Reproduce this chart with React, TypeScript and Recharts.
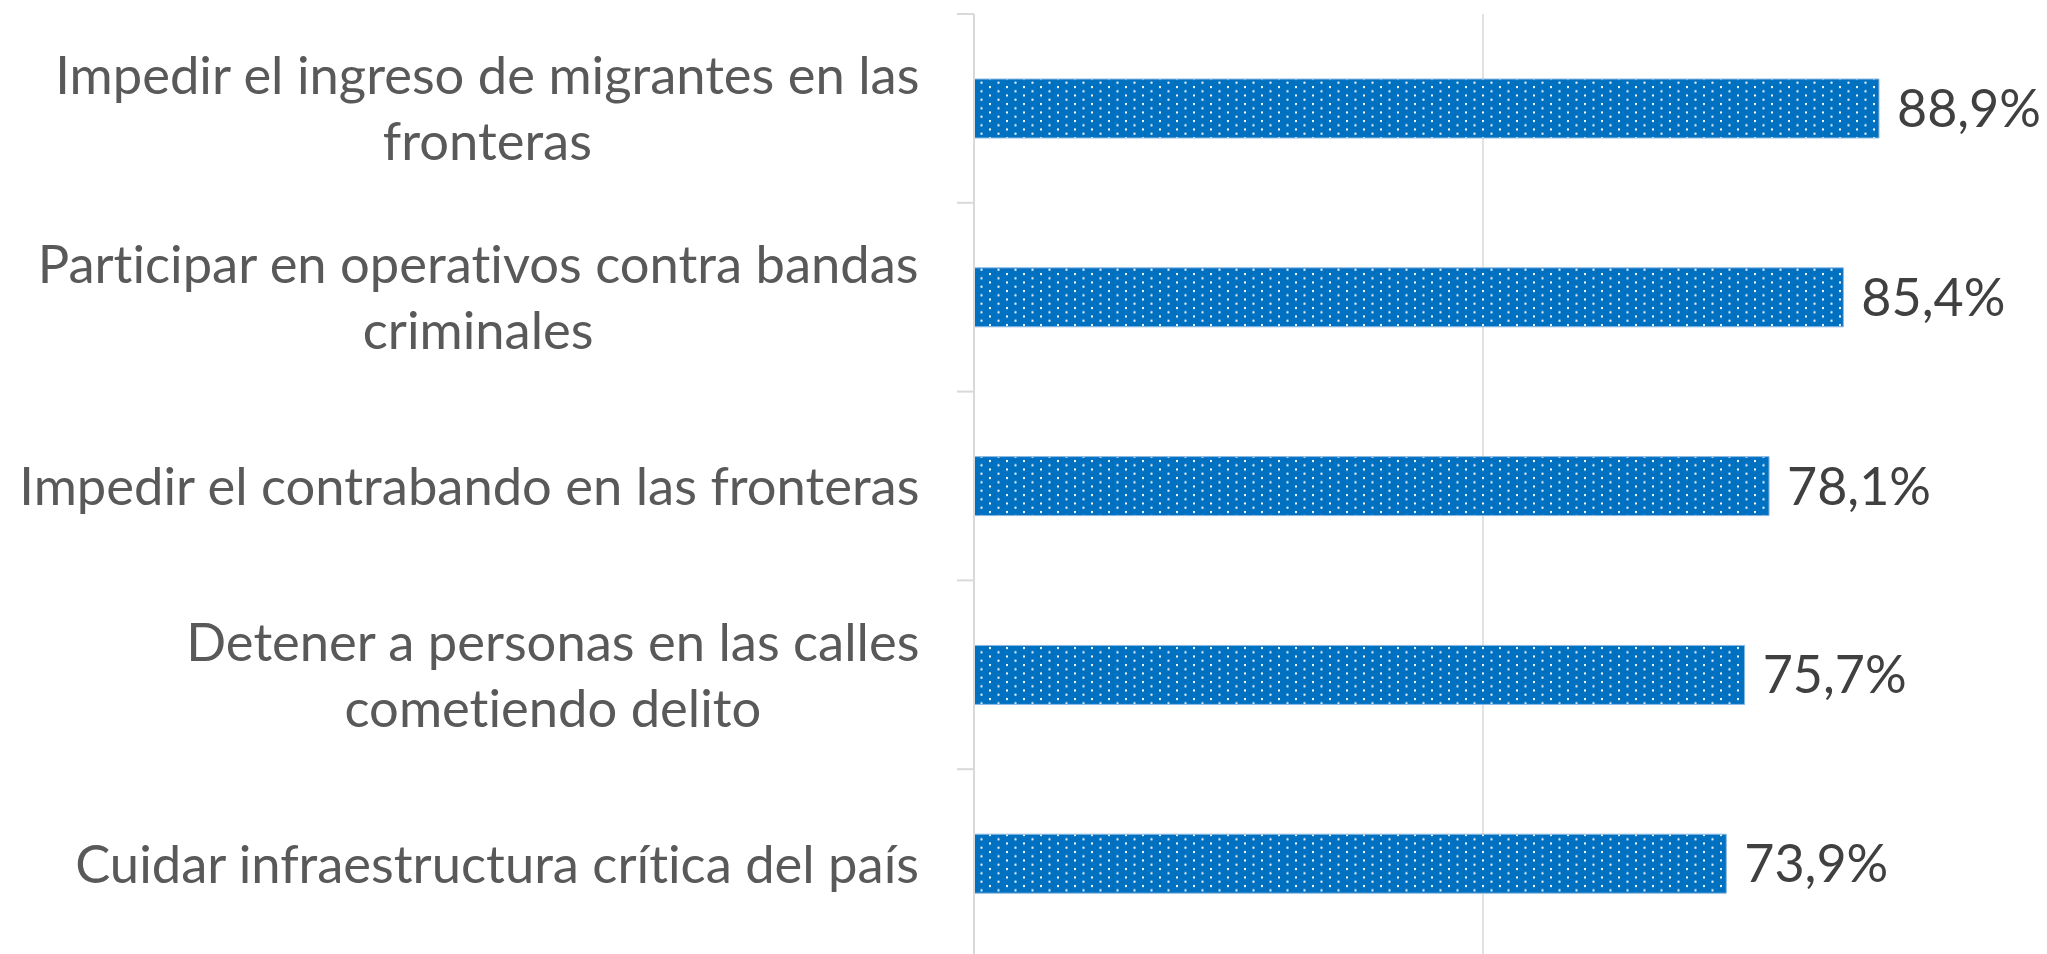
import React from 'react';
import { BarChart, Bar, XAxis, YAxis, CartesianGrid, LabelList } from 'recharts';

const categories: string[] = [
  'Impedir el ingreso de migrantes en las\nfronteras',
  'Participar en operativos contra bandas\ncriminales',
  'Impedir el contrabando en las fronteras',
  'Detener a personas en las calles\ncometiendo delito',
  'Cuidar infraestructura crítica del país',
];
const values: number[] = [88.9, 85.4, 78.1, 75.7, 73.9];
const xDomain: [number, number] = [0, 100];
const gridTicks: number[] = [50];

const data = categories.map((name, i) => ({ name, value: values[i] }));

const FONT = "Lato, 'Open Sans', sans-serif";
const CAT_SIZE = 52.5;
const VAL_SIZE = 52;
const LINE_H = 66;

let ctx: CanvasRenderingContext2D | null = null;
function measure(text: string): number {
  if (!ctx) ctx = document.createElement('canvas').getContext('2d');
  if (!ctx) return text.length * CAT_SIZE * 0.45;
  ctx.font = `${CAT_SIZE}px Lato`;
  return ctx.measureText(text).width;
}

const CategoryTick = (props: any) => {
  const { x, y, payload } = props;
  const lines = String(payload.value).split('\n');
  const widths = lines.map(measure);
  const blockW = Math.max(...widths);
  const cx = x - blockW / 2;
  const y0 = y - ((lines.length - 1) * LINE_H) / 2;
  const half = payload.offset && payload.offset > 0 ? payload.offset : 94.4;
  const axisX = x + 54;
  return (
    <g>
      <line x1={axisX - 17} x2={axisX} y1={y - half} y2={y - half} stroke="#d9d9d9" strokeWidth={2} />
      <text
        x={cx}
        y={y0}
        textAnchor="middle"
        fill="#595959"
        fontSize={CAT_SIZE}
        fontFamily={FONT}
        style={{ fontVariantLigatures: 'none' }}
      >
        {lines.map((l, i) => (
          <tspan key={i} x={cx} y={y0 + i * LINE_H} dy="0.36em">
            {l}
          </tspan>
        ))}
      </text>
    </g>
  );
};

const fmt = (v: any) => Number(v).toFixed(1).replace('.', ',') + '%';

export default function App() {
  return (
    <div style={{ position: 'fixed', top: 0, left: 0, width: 2047, height: 954, overflow: 'hidden', background: '#fff' }}>
      <BarChart
        width={2047}
        height={958}
        data={data}
        layout="vertical"
        margin={{ top: 14, right: 55, bottom: 0, left: 0 }}
      >
        <defs>
          <pattern id="dots" patternUnits="userSpaceOnUse" width={17} height={8.5}>
            <rect x={0} y={0} width={17} height={8.5} fill="#0070C0" />
            <rect x={3} y={1} width={2} height={2} fill="#ffffff" />
            <rect x={11.5} y={5.25} width={2} height={2} fill="#ffffff" />
          </pattern>
        </defs>
        <CartesianGrid horizontal={false} syncWithTicks stroke="#d9d9d9" strokeWidth={1.5} />
        <XAxis type="number" domain={xDomain} ticks={gridTicks} hide />
        <YAxis
          type="category"
          dataKey="name"
          width={974}
          interval={0}
          axisLine={{ stroke: '#d9d9d9', strokeWidth: 2 }}
          tickLine={false}
          tickSize={17}
          tickMargin={37}
          tick={<CategoryTick />}
        />
        <Bar dataKey="value" fill="url(#dots)" stroke="#8db9e2" strokeWidth={1} barSize={59} isAnimationActive={false}>
          <LabelList
            dataKey="value"
            position="right"
            offset={18}
            formatter={fmt}
            fill="#404040"
            fontSize={VAL_SIZE}
            fontFamily={FONT}
          />
        </Bar>
      </BarChart>
    </div>
  );
}
